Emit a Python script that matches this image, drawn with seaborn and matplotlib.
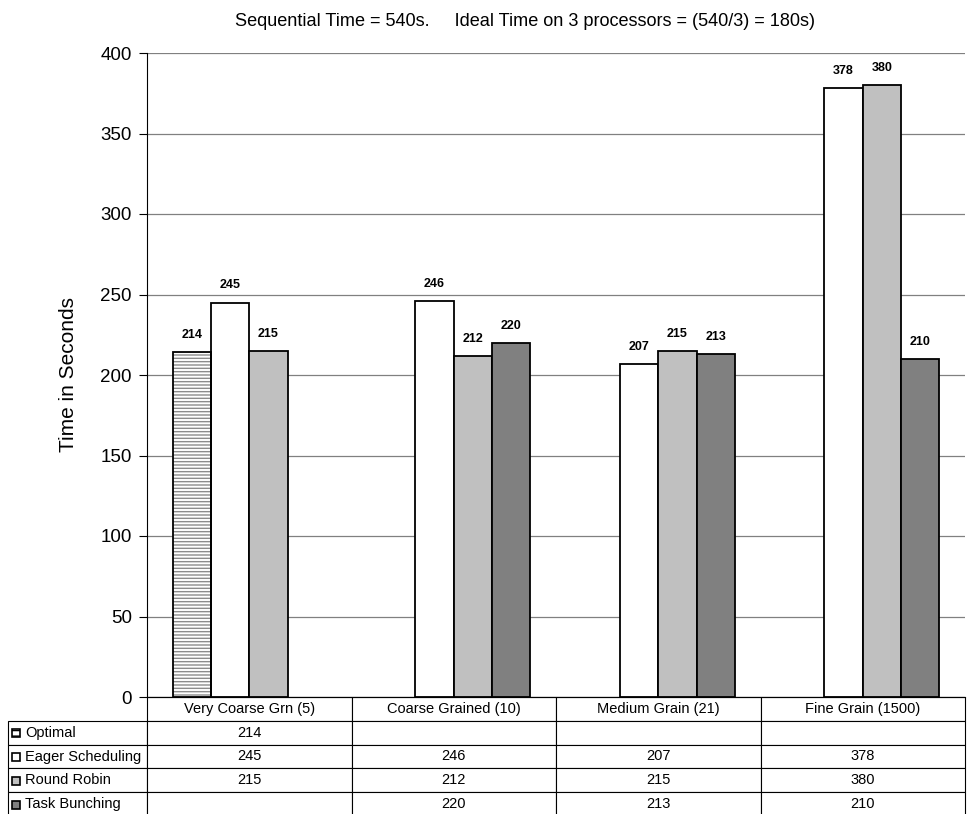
import numpy as np
import pandas as pd
import seaborn as sns
import matplotlib.pyplot as plt
from matplotlib.patches import Rectangle

# Chart data
categories = ['Very Coarse Grn (5)', 'Coarse Grained (10)', 'Medium Grain (21)', 'Fine Grain (1500)']
series_names = ['Optimal', 'Eager Scheduling', 'Round Robin', 'Task Bunching']
optimal = [214, np.nan, np.nan, np.nan]
eager = [245, 246, 207, 378]
round_robin = [215, 212, 215, 380]
task_bunching = [np.nan, 220, 213, 210]
series_colors = ['white', 'white', '#C0C0C0', '#808080']

values = [optimal, eager, round_robin, task_bunching]

# Long format for seaborn
rows = []
for name, vals in zip(series_names, values):
    for cat, v in zip(categories, vals):
        if not np.isnan(v):
            rows.append({'category': cat, 'series': name, 'time': v})
df = pd.DataFrame(rows)

sns.set_style('white')
plt.rcParams['font.family'] = ['Liberation Sans', 'DejaVu Sans']
for k in ['text.color', 'axes.labelcolor', 'xtick.color', 'ytick.color']:
    plt.rcParams[k] = 'black'

W, H = 968, 814
fig = plt.figure(figsize=(W / 100, H / 100), dpi=100)
ax_l, ax_r, ax_t, ax_b = 147, 965, 53, 697
ax = fig.add_axes([ax_l / W, 1 - ax_b / H, (ax_r - ax_l) / W, (ax_b - ax_t) / H])
ax_w, ax_h = ax_r - ax_l, ax_b - ax_t

sns.barplot(data=df, x='category', y='time', hue='series', order=categories,
            hue_order=series_names, palette=series_colors, width=0.75,
            edgecolor='black', linewidth=1.3, legend=False, ax=ax)

# Optimal bars: grey horizontal hatching with a black outline
for bar in ax.containers[0]:
    bar.set_edgecolor('#8c8c8c')
    bar.set_hatch('-----')
    bar.set_linewidth(0)
    ax.add_patch(Rectangle((bar.get_x(), bar.get_y()), bar.get_width(), bar.get_height(),
                           fill=False, edgecolor='black', linewidth=1.3, zorder=bar.get_zorder() + 0.1))

for cont in ax.containers:
    ax.bar_label(cont, fmt='%.0f', fontweight='bold', fontsize=9, padding=8)

ax.set_ylim(0, 400)
ax.set_xlim(-0.5, 3.5)
ax.set_yticks(range(0, 401, 50))
ax.tick_params(axis='y', labelsize=13.5, length=6, width=0.8, direction='out', left=True,
               color='black', pad=5)
ax.set_xticks([])
ax.set_xlabel('')
ax.set_ylabel('Time in Seconds', fontsize=15)
ax.yaxis.set_label_coords((78 - ax_l) / ax_w, 0.5)
ax.yaxis.grid(True, color='#808080', linewidth=0.9)
ax.set_axisbelow(True)
for side in ['top', 'right']:
    ax.spines[side].set_visible(False)
ax.spines['left'].set_color('black')
ax.spines['bottom'].set_color('black')

fig.text(525 / W, 1 - 22 / H,
         'Sequential Time = 540s.     Ideal Time on 3 processors = (540/3) = 180s)',
         ha='center', va='center', fontsize=13.1)

# Data table under the chart
cell_text = [['' if np.isnan(v) else '%d' % v for v in vals] for vals in values]
lab_w = ax_l - 8
tab_h = 119
tbl = ax.table(cellText=cell_text, rowLabels=series_names, colLabels=categories,
               cellLoc='center', rowLoc='left', colWidths=[0.25] * 4,
               bbox=[0, -tab_h / ax_h, 1, tab_h / ax_h])
tbl._autoColumns = []
tbl.auto_set_font_size(False)
tbl.set_fontsize(10.5)
for (r, c), cell in tbl.get_celld().items():
    cell.set_linewidth(0.8)
    cell.set_edgecolor('black')
    if c == -1:
        cell.set_width(lab_w / ax_w)
        cell.PAD = 17 / lab_w

# legend keys in the row label cells
row_h = tab_h / 5
for i, col in enumerate(series_colors):
    yc = ax_b + row_h * (i + 1.5)
    key = Rectangle((12 / W, 1 - (yc + 4.5) / H), 8 / W, 8 / H, transform=fig.transFigure,
                    facecolor=col, edgecolor='black', linewidth=1.2,
                    hatch='---' if i == 0 else None)
    fig.add_artist(key)

fig.savefig('out.png', dpi=100)
